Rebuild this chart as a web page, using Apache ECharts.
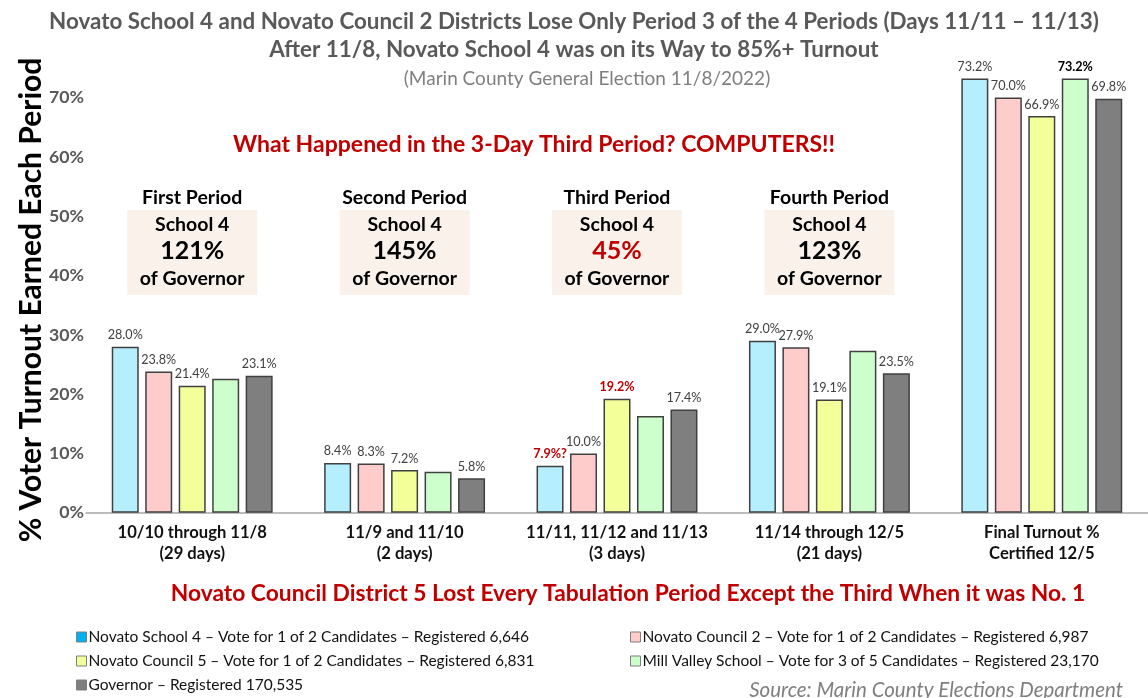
<!DOCTYPE html>
<html>
<head>
<meta charset="utf-8">
<script src="https://cdn.jsdelivr.net/npm/echarts@6/dist/echarts.min.js"></script>
<style>
  html, body { margin: 0; padding: 0; background: #fff; }
  #chart { width: 1148px; height: 698px; }
</style>
</head>
<body>
<div id="chart"></div>
<script>
// categories (tabulation periods)
var periods = [
  '10/10 through 11/8\n(29 days)',
  '11/9 and 11/10\n(2 days)',
  '11/11, 11/12 and 11/13\n(3 days)',
  '11/14 through 12/5\n(21 days)',
  'Final Turnout %\nCertified 12/5'
];

// % turnout earned each period
var school4    = [28.0, 8.4, 7.9, 29.0, 73.2];
var council2   = [23.8, 8.3, 10.0, 27.9, 70.0];
var council5   = [21.4, 7.2, 19.2, 19.1, 66.9];
var millValley = [22.6, 6.9, 16.3, 27.3, 73.2];
var governor   = [23.1, 5.8, 17.4, 23.5, 69.8];

var seriesNames = [
  'Novato School 4 \u2013 Vote for 1 of 2 Candidates \u2013 Registered 6,646',
  'Novato Council 2 \u2013 Vote for 1 of 2 Candidates \u2013 Registered 6,987',
  'Novato Council 5 \u2013 Vote for 1 of 2 Candidates \u2013 Registered 6,831',
  'Mill Valley School \u2013 Vote for 3 of 5 Candidates \u2013 Registered 23,170',
  'Governor \u2013 Registered 170,535'
];
var barColors    = ['#B5EEFD', '#FFCCCC', '#F3FF99', '#CCFFCC', '#7F7F7F'];
var legendColors = ['#00B0F0', '#FFCCCC', '#F3FF99', '#CCFFCC', '#7F7F7F'];

// y axis ticks
var yTicks = [0, 10, 20, 30, 40, 50, 60, 70];

// period boxes
var boxTitles   = ['First Period', 'Second Period', 'Third Period', 'Fourth Period'];
var boxPercents = ['121%', '145%', '45%', '123%'];

var FONT = 'Lato, "Open Sans", sans-serif';
var RED = '#C00000';

// font size that makes a string a given pixel width (Lato is wider than the original font)
var measureCtx = document.createElement('canvas').getContext('2d');
function fit(text, target, weight) {
  measureCtx.font = (weight || 'bold') + ' 100px ' + FONT;
  return Math.round(1000 * target / measureCtx.measureText(text).width) / 10;
}

var titleSize = fit('Novato School 4 and Novato Council 2 Districts Lose Only Period 3 of the 4 Periods (Days 11/11 \u2013 11/13)', 1052);
var catSize   = fit('10/10 through 11/8', 149);
var valSize   = fit('70.0%', 35, 'normal');
var ySize     = fit('70%', 35);
var boxSize   = fit('of Governor', 105);
var pctSize   = fit('121%', 64);

var chart = echarts.init(document.getElementById('chart'));

function makeData(values, idx) {
  return values.map(function (v, i) {
    var item = { value: v };
    if (idx === 3) {
      // Mill Valley only labelled in final column
      item.label = { show: i === 4, fontWeight: 'bold', color: '#000' };
    }
    if (idx === 0 && i === 2) {
      item.label = { formatter: '{c}%?', color: RED, fontWeight: 'bold' };
    }
    if (idx === 2 && i === 2) {
      item.label = { color: RED, fontWeight: 'bold' };
    }
    return item;
  });
}

var allValues = [school4, council2, council5, millValley, governor];

var series = allValues.map(function (vals, idx) {
  return {
    name: seriesNames[idx],
    type: 'bar',
    barWidth: 27,
    barGap: '24%',
    data: makeData(vals, idx),
    itemStyle: { color: barColors[idx], borderColor: '#404040', borderWidth: 1.5 },
    label: {
      show: true,
      position: 'top',
      distance: 5,
      fontFamily: FONT,
      fontSize: valSize,
      color: '#404040',
      formatter: function (p) { return p.value.toFixed(1) + '%'; }
    }
  };
});

function legendData(ids) {
  return ids.map(function (i) {
    return { name: seriesNames[i], itemStyle: { color: legendColors[i], borderColor: '#7f7f7f', borderWidth: 1 } };
  });
}

var legendBase = {
  orient: 'vertical',
  icon: 'rect',
  itemWidth: 10,
  itemHeight: 10,
  itemGap: 8,
  height: 90,
  padding: 0,
  selectedMode: false,
  textStyle: { fontFamily: FONT, fontSize: 15.5, color: '#111', padding: [0, 0, 0, -3] }
};

chart.setOption({
  animation: false,
  textStyle: { fontFamily: FONT },
  title: [
    {
      text: 'Novato School 4 and Novato Council 2 Districts Lose Only Period 3 of the 4 Periods (Days 11/11 \u2013 11/13)\nAfter 11/8, Novato School 4 was on its Way to 85%+ Turnout',
      left: 'center',
      top: 3,
      textStyle: { fontFamily: FONT, fontSize: titleSize, fontWeight: 'bold', color: '#595959', lineHeight: 28 }
    },
    {
      text: '(Marin County General Election 11/8/2022)',
      left: 582, top: 64, textAlign: 'center',
      textStyle: { fontFamily: FONT, fontSize: 19, fontWeight: 'normal', color: '#7F7F7F' }
    },
    {
      text: 'Source: Marin County Elections Department',
      right: 20, top: 675,
      textStyle: { fontFamily: FONT, fontSize: 20.5, fontWeight: 'normal', fontStyle: 'italic', color: '#7F7F7F' }
    }
  ],
  legend: [
    Object.assign({}, legendBase, { left: 76, top: 629, data: legendData([0, 2, 4]) }),
    Object.assign({}, legendBase, { left: 630, top: 629, data: legendData([1, 3]) })
  ],
  grid: { left: 86, top: 38.3, width: 1083, height: 474.4, containLabel: false },
  xAxis: {
    type: 'category',
    data: periods,
    axisTick: { show: false },
    axisLine: { lineStyle: { color: '#A6A6A6', width: 1.5 } },
    axisLabel: {
      fontFamily: FONT, fontSize: catSize, fontWeight: 'bold', color: '#111',
      lineHeight: 21, margin: 9, interval: 0
    }
  },
  yAxis: {
    type: 'value',
    min: 0,
    max: 80,
    interval: 10,
    splitLine: { show: false },
    axisLine: { show: false },
    axisTick: { show: false },
    axisLabel: {
      fontFamily: FONT, fontSize: ySize, fontWeight: 'bold', color: '#595959', margin: 2,
      formatter: function (v) { return yTicks.indexOf(v) >= 0 ? v + '%' : ''; }
    }
  },
  series: series
});

// annotations placed over the category positions
var graphics = [
  {
    type: 'text', x: 31, y: 300, rotation: Math.PI / 2,
    style: { text: '% Voter Turnout Earned Each Period', fontFamily: FONT, fontSize: 30, fontWeight: 'bold',
             fill: '#000', align: 'center', verticalAlign: 'middle' }
  },
  {
    type: 'text', x: 534, y: 145,
    style: { text: 'What Happened in the 3-Day Third Period? COMPUTERS!!', fontFamily: FONT, fontSize: 23,
             fontWeight: 'bold', fill: RED, align: 'center', verticalAlign: 'middle' }
  },
  {
    type: 'text', x: 628, y: 594,
    style: { text: 'Novato Council District 5 Lost Every Tabulation Period Except the Third When it was No. 1',
             fontFamily: FONT, fontSize: 22.8, fontWeight: 'bold', fill: RED, align: 'center', verticalAlign: 'middle' }
  }
];

boxTitles.forEach(function (t, i) {
  var cx = chart.convertToPixel({ xAxisIndex: 0 }, i);
  graphics.push({
    type: 'rect', shape: { x: cx - 65, y: 210, width: 130, height: 85 },
    style: { fill: '#F9F1EA' }, z: 1
  });
  graphics.push({
    type: 'text', x: cx, y: 198, z: 2,
    style: { text: t, fontFamily: FONT, fontSize: boxSize, fontWeight: 'bold', fill: '#000', align: 'center', verticalAlign: 'middle' }
  });
  graphics.push({
    type: 'text', x: cx, y: 225, z: 2,
    style: { text: 'School 4', fontFamily: FONT, fontSize: boxSize, fontWeight: 'bold', fill: '#000', align: 'center', verticalAlign: 'middle' }
  });
  graphics.push({
    type: 'text', x: cx, y: 251, z: 2,
    style: { text: boxPercents[i], fontFamily: FONT, fontSize: pctSize, fontWeight: 'bold',
             fill: i === 2 ? RED : '#000', align: 'center', verticalAlign: 'middle' }
  });
  graphics.push({
    type: 'text', x: cx, y: 279, z: 2,
    style: { text: 'of Governor', fontFamily: FONT, fontSize: boxSize, fontWeight: 'bold', fill: '#000', align: 'center', verticalAlign: 'middle' }
  });
});

chart.setOption({ graphic: graphics });
</script>
</body>
</html>
